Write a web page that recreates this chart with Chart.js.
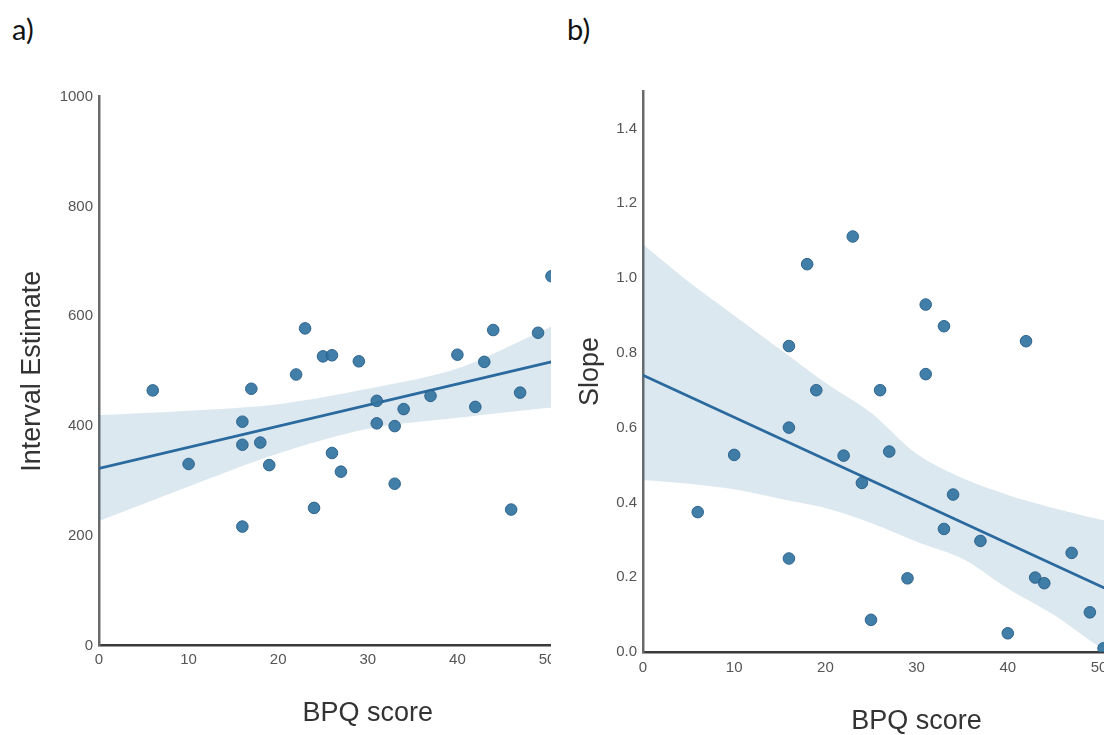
<!DOCTYPE html>
<html>
<head>
<meta charset="utf-8">
<script src="https://cdn.jsdelivr.net/npm/chart.js@4.4.1/dist/chart.umd.min.js"></script>
<style>
  html, body { margin:0; padding:0; background:#fff; width:1104px; height:735px; overflow:hidden; }
  .panel { position:absolute; top:0; height:735px; overflow:hidden; }
  .tag { position:absolute; top:11px; font-family:Lato, "Open Sans", sans-serif; font-size:29px; color:#111; }
  canvas { position:absolute; left:0; top:0; }
</style>
</head>
<body>
<div class="tag" style="left:12px">a)</div>
<div class="tag" style="left:567px">b)</div>
<div class="panel" style="left:0;width:551px"><canvas id="chartA" width="700" height="735"></canvas></div>
<div class="panel" style="left:560px;width:544px"><canvas id="chartB" width="700" height="735"></canvas></div>
<script>
// panel a: BPQ score vs interval estimate
const bpqA = [6,10,16,16,16,17,18,19,22,23,24,25,26,26,27,29,31,31,33,33,34,37,40,42,43,44,46,47,49,50.5];
const intervalA = [465,331,408,366,217,468,370,329,494,578,251,527,529,351,317,518,446,405,400,295,431,455,530,435,517,575,248,461,570,673];
const fitXA = [0,50,60];
const fitYA = [323,515,553];
const bandXA = [0,10,20,30,40,50,60];
const bandLowA = [227,290,350,395,415,433,445];
const bandHighA = [420,428,440,468,505,578,650];
const xTicksA = [0,10,20,30,40,50,60];
const yTicksA = [0,200,400,600,800,1000];

// panel b: BPQ score vs slope
const bpqB = [6,10,16,16,16,18,19,22,23,24,25,26,27,29,31,31,33,33,34,37,40,42,43,44,47,49,50.5];
const slopeB = [0.374,0.527,0.60,0.25,0.818,1.037,0.70,0.525,1.111,0.452,0.086,0.70,0.536,0.197,0.743,0.929,0.329,0.871,0.421,0.297,0.05,0.831,0.199,0.184,0.265,0.106,0.01];
const fitXB = [0,50,60];
const fitYB = [0.74,0.178,0.066];
const bandXB = [0,5,10,15,20,25,30,35,40,45,50,60];
const bandLowB = [0.46,0.45,0.435,0.41,0.385,0.345,0.295,0.25,0.17,0.10,0.015,-0.12];
const bandHighB = [1.09,0.99,0.90,0.81,0.72,0.64,0.53,0.465,0.42,0.385,0.355,0.30];
const xTicksB = [0,10,20,30,40,50,60];
const yTicksB = [0,0.2,0.4,0.6,0.8,1.0,1.2,1.4];

const FONT = "'Liberation Sans', Arial, sans-serif";

function pts(xs, ys){ return xs.map((x,i)=>({x:x, y:ys[i]})); }

function makeChart(id, o){
  return new Chart(document.getElementById(id), {
    type:'scatter',
    data:{
      datasets:[
        {type:'line', data:pts(o.bandX,o.bandHigh), borderWidth:0, pointRadius:0, fill:'+1',
         backgroundColor:'rgba(50,116,161,0.17)', tension:0.3, clip:0, order:3},
        {type:'line', data:pts(o.bandX,o.bandLow), borderWidth:0, pointRadius:0, fill:false,
         tension:0.3, clip:0, order:4},
        {type:'line', data:pts(o.fitX,o.fitY), borderColor:'#2b6a9e', borderWidth:2.8,
         pointRadius:0, fill:false, clip:0, order:2},
        {data:pts(o.xs,o.ys), backgroundColor:'rgba(50,116,161,0.92)', borderColor:'rgba(38,92,135,0.9)',
         borderWidth:1, pointRadius:5.8, order:1}
      ]
    },
    options:{
      responsive:false, animation:false,
      layout:{ padding:o.pad },
      plugins:{ legend:{display:false}, tooltip:{enabled:false} },
      scales:{
        x:{
          type:'linear', min:0, max:60,
          grid:{display:false, drawTicks:false},
          border:{display:true, color:'#3a3a3a', width:2.5},
          ticks:{color:'#555', font:{family:FONT, size:15}, padding:o.xTickPad},
          afterBuildTicks:s=>{ s.ticks = o.xTicks.map(v=>({value:v})); },
          afterFit:s=>{ s.height = o.xHeight; },
          title:{display:true, text:'BPQ score', color:'#333', font:{family:FONT, size:27, lineHeight:1},
                 padding:{top:0, bottom:o.xTitlePad}}
        },
        y:{
          type:'linear', min:0, max:o.yMax,
          grid:{display:false, drawTicks:false},
          border:{display:true, color:'#6a6a6a', width:2.5},
          ticks:{color:'#555', font:{family:FONT, size:15}, padding:6, callback:o.fmt},
          afterBuildTicks:s=>{ s.ticks = o.yTicks.map(v=>({value:v})); },
          afterFit:s=>{ s.width = o.yWidth; },
          title:{display:true, text:o.yTitle, color:'#333', font:{family:FONT, size:27, lineHeight:1},
                 padding:{top:o.yTitlePad, bottom:0}}
        }
      }
    }
  });
}

makeChart('chartA', {
  xs:bpqA, ys:intervalA, fitX:fitXA, fitY:fitYA,
  bandX:bandXA, bandLow:bandLowA, bandHigh:bandHighA,
  xTicks:xTicksA, yTicks:yTicksA, yMax:1000, yTitle:'Interval Estimate',
  fmt:v=>String(v),
  pad:{left:0, top:96.7, right:63.4, bottom:0},
  yWidth:99, xHeight:89.3, xTickPad:5, xTitlePad:7.5, yTitlePad:19.5
});

makeChart('chartB', {
  xs:bpqB, ys:slopeB, fitX:fitXB, fitY:fitYB,
  bandX:bandXB, bandLow:bandLowB, bandHigh:bandHighB,
  xTicks:xTicksB, yTicks:yTicksB, yMax:1.5, yTitle:'Slope',
  fmt:v=>Number(v).toFixed(1),
  pad:{left:0, top:91, right:69.8, bottom:0},
  yWidth:83, xHeight:83, xTickPad:7, xTitlePad:0, yTitlePad:17
});
</script>
</body>
</html>
